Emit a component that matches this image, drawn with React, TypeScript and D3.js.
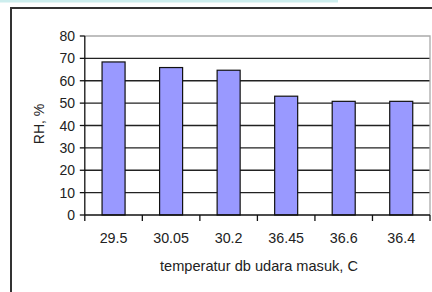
import React from "react";
import * as d3 from "d3";

const categories = ["29.5", "30.05", "30.2", "36.45", "36.6", "36.4"];
const rhValues = [68.4, 65.9, 64.7, 53.1, 50.8, 50.8];
const yTicks = [0, 10, 20, 30, 40, 50, 60, 70, 80];
const yTitle = "RH, %";
const xTitle = "temperatur db udara masuk, C";

const W = 432;
const H = 292;
const left = 84.8;
const right = 430;
const top = 36;
const bottom = 215;
const font = "'Liberation Sans', Arial, sans-serif";

export default function App() {
  const x = d3
    .scaleBand<string>()
    .domain(categories)
    .range([left, right])
    .paddingInner(0.6)
    .paddingOuter(0.3);
  const y = d3.scaleLinear().domain([0, 80]).range([bottom, top]);
  const step = x.step();
  const boundaries = d3.range(categories.length + 1).map((i) => left + i * step);

  return (
    <svg
      width={W}
      height={H}
      style={{ position: "absolute", left: 0, top: 0, background: "#fff" }}
      fontFamily={font}
    >
      <rect x={0} y={0} width={338} height={2.5} fill="#cdeeee" />
      <rect x={11} y={8} width={W} height={H} fill="#fff" stroke="#333" strokeWidth={2} />
      {yTicks
        .filter((t) => t > 0 && t < 80)
        .map((t) => (
          <line key={"g" + t} x1={left} x2={right} y1={y(t)} y2={y(t)} stroke="#222" strokeWidth={1.3} />
        ))}
      <path
        d={`M${left},${top}H${right}V${bottom}`}
        fill="none"
        stroke="#aaa"
        strokeWidth={1.3}
      />
      {categories.map((c, i) => (
        <rect
          key={c}
          x={x(c)}
          y={y(rhValues[i])}
          width={x.bandwidth()}
          height={y(0) - y(rhValues[i])}
          fill="#9999ff"
          stroke="#111"
          strokeWidth={1.2}
        />
      ))}
      <line x1={left} x2={left} y1={top} y2={bottom} stroke="#111" strokeWidth={1.3} />
      {yTicks.map((t) => (
        <g key={"y" + t}>
          <line x1={left - 5} x2={left} y1={y(t)} y2={y(t)} stroke="#111" strokeWidth={1.3} />
          <text x={75} y={y(t)} dy="0.36em" textAnchor="end" fontSize={14} fill="#222">
            {t}
          </text>
        </g>
      ))}
      <line x1={left} x2={right} y1={bottom} y2={bottom} stroke="#111" strokeWidth={1.3} />
      {boundaries.map((bx, i) => (
        <line key={"xt" + i} x1={bx} x2={bx} y1={bottom} y2={bottom + 6} stroke="#111" strokeWidth={1.3} />
      ))}
      {categories.map((c) => (
        <text
          key={"xl" + c}
          x={(x(c) as number) + x.bandwidth() / 2}
          y={243.3}
          textAnchor="middle"
          fontSize={14.3}
          fill="#222"
        >
          {c}
        </text>
      ))}
      <text x={259} y={271} textAnchor="middle" fontSize={14.6} fill="#222">
        {xTitle}
      </text>
      <text
        transform={`translate(44,124) rotate(-90)`}
        textAnchor="middle"
        fontSize={14}
        fill="#222"
      >
        {yTitle}
      </text>
    </svg>
  );
}
